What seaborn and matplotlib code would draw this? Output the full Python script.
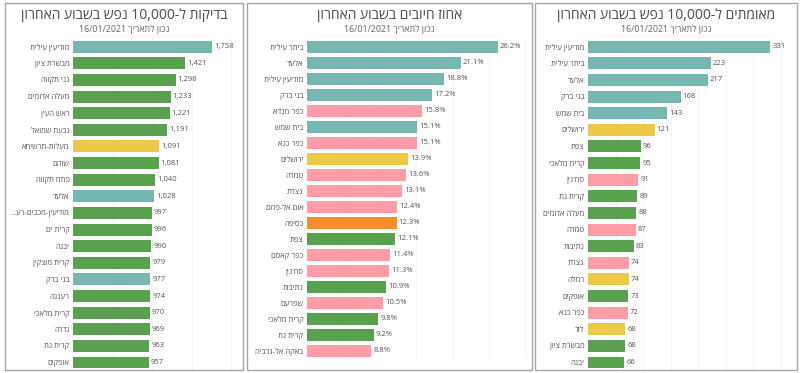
import re
import numpy as np
import pandas as pd
import matplotlib
matplotlib.use("Agg")
import matplotlib.pyplot as plt
import seaborn as sns
from matplotlib.patches import Rectangle
from matplotlib.transforms import Bbox, TransformedBbox

# ---------------- data ----------------
subtitle = "נכון לתאריך 16/01/2021"

tests_title = "בדיקות ל-10,000 נפש בשבוע האחרון"
tests_towns = ["מודיעין עילית", "מבשרת ציון", "גני תקווה", "מעלה אדומים", "ראש העין",
               "גבעת שמואל", "מעלות-תרשיחא", "שוהם", "פתח תקווה", "אלעד",
               "מודיעין-מכבים-רע...", "קרית ים", "יבנה", "קרית מוצקין", "בני ברק",
               "רעננה", "קרית מלאכי", "גדרה", "קרית גת", "אופקים"]
tests_values = [1758, 1421, 1298, 1233, 1221, 1191, 1091, 1081, 1040, 1028,
                997, 996, 990, 979, 977, 974, 970, 969, 963, 957]
tests_groups = ["haredi", "general", "general", "general", "general",
                "general", "mixed", "general", "general", "haredi",
                "general", "general", "general", "general", "haredi",
                "general", "general", "general", "general", "general"]

pos_title = "אחוז חיובים בשבוע האחרון"
pos_towns = ["ביתר עילית", "אלעד", "מודיעין עילית", "בני ברק", "כפר מנדא",
             "בית שמש", "כפר כנא", "ירושלים", "טמרה", "נצרת",
             "אום אל-פחם", "כסיפה", "צפת", "כפר קאסם", "סח'נין",
             "נתיבות", "שפרעם", "קרית מלאכי", "קרית גת", "באקה אל-גרביה"]
pos_values = [26.2, 21.1, 18.8, 17.2, 15.8, 15.1, 15.1, 13.9, 13.6, 13.1,
              12.4, 12.3, 12.1, 11.4, 11.3, 10.9, 10.5, 9.8, 9.2, 8.8]
pos_groups = ["haredi", "haredi", "haredi", "haredi", "arab",
              "haredi", "arab", "mixed", "arab", "arab",
              "arab", "bedouin", "general", "arab", "arab",
              "general", "arab", "general", "general", "arab"]

conf_title = "מאומתים ל-10,000 נפש בשבוע האחרון"
conf_towns = ["מודיעין עילית", "ביתר עילית", "אלעד", "בני ברק", "בית שמש",
              "ירושלים", "צפת", "קרית מלאכי", "סח'נין", "קרית גת",
              "מעלה אדומים", "טמרה", "נתיבות", "נצרת", "רמלה",
              "אופקים", "כפר כנא", "לוד", "מבשרת ציון", "יבנה"]
conf_values = [331, 223, 217, 168, 143, 121, 96, 95, 91, 89,
               88, 87, 83, 74, 74, 73, 72, 68, 68, 66]
conf_groups = ["haredi", "haredi", "haredi", "haredi", "haredi",
               "mixed", "general", "general", "arab", "general",
               "general", "arab", "general", "arab", "mixed",
               "general", "arab", "mixed", "general", "general"]

palette = {"haredi": "#76b7b2", "general": "#59a14f", "mixed": "#edc948",
           "arab": "#ff9da7", "bedouin": "#f28e2b"}


def vis(s):
    """Logical-order Hebrew -> visual order (numbers stay left-to-right)."""
    runs = re.findall(r"\d[\d,./]*\d%?|\d%?|[^\d]+", s)
    return "".join(r if r[0].isdigit() else r[::-1] for r in reversed(runs))


# ---------------- figure ----------------
W, H = 800, 373
sns.set_theme(style="white")
plt.rcParams["font.family"] = ["Open Sans", "DejaVu Sans"]

fig = plt.figure(figsize=(W / 100, H / 100), dpi=100)
fig.patch.set_facecolor("white")

TEXT = "#555555"

panels = [
    dict(title=tests_title, towns=tests_towns, values=tests_values, groups=tests_groups,
         box=(5, 3, 243, 370), ax=(73, 38.4, 238, 370.8), xmax=2086, step=500,
         fmt=lambda v: f"{v:,.0f}", width=0.72),
    dict(title=pos_title, towns=pos_towns, values=pos_values, groups=pos_groups,
         box=(247, 3, 532, 370), ax=(307, 39, 527, 359), xmax=30.2, step=5,
         fmt=lambda v: f"{v:.1f}%", width=0.75),
    dict(title=conf_title, towns=conf_towns, values=conf_values, groups=conf_groups,
         box=(535, 3, 797, 370), ax=(588, 38.4, 793, 370.8), xmax=372, step=50,
         fmt=lambda v: f"{v:,.0f}", width=0.72),
]

for p in panels:
    bx0, by0, bx1, by1 = p["box"]
    fig.add_artist(Rectangle((bx0 / W, 1 - by1 / H), (bx1 - bx0) / W, (by1 - by0) / H,
                             transform=fig.transFigure, fill=False,
                             edgecolor="#a6a6a6", lw=1.0))
    cx = (bx0 + bx1) / 2
    fig.text(cx / W, 1 - 15.5 / H, vis(p["title"]), ha="center", va="center",
             fontsize=10, color="#4a4a4a", fontweight="normal")
    fig.text(cx / W, 1 - 29.5 / H, vis(subtitle), ha="center", va="center",
             fontsize=6.4, color="#666666")

    x0, y0, x1, y1 = p["ax"]
    ax = fig.add_axes([x0 / W, 1 - y1 / H, (x1 - x0) / W, (y1 - y0) / H])
    df = pd.DataFrame({"town": [vis(t) for t in p["towns"]],
                       "value": p["values"], "group": p["groups"]})
    sns.barplot(data=df, y="town", x="value", hue="group", palette=palette,
                dodge=False, legend=False, ax=ax, width=p["width"], saturation=1,
                linewidth=0)
    for c in ax.containers:
        ax.bar_label(c, fmt=p["fmt"], padding=1.5, fontsize=5.5, color=TEXT)
    ax.set_xlim(0, p["xmax"])
    ax.set_ylim(len(df) - 0.5, -0.5)
    ax.set_xticks(np.arange(p["step"], p["xmax"], p["step"]))
    ax.set_xticklabels([])
    ax.xaxis.grid(True, color="#f5f5f5", lw=0.8)
    ax.yaxis.grid(False)
    ax.set_axisbelow(True)
    ax.set_xlabel("")
    ax.set_ylabel("")
    for s in ax.spines.values():
        s.set_visible(False)
    ax.tick_params(axis="y", length=0, pad=2.5, labelsize=5.5, labelcolor=TEXT)
    ax.tick_params(axis="x", length=0)
    clip = TransformedBbox(Bbox.from_extents(bx0 / W, 1 - by1 / H, bx1 / W, 1 - by0 / H),
                           fig.transFigure)
    for lab in ax.get_yticklabels():
        lab.set_clip_on(True)
        lab.set_clip_box(clip)

fig.savefig("out.png", dpi=100, facecolor="white")
